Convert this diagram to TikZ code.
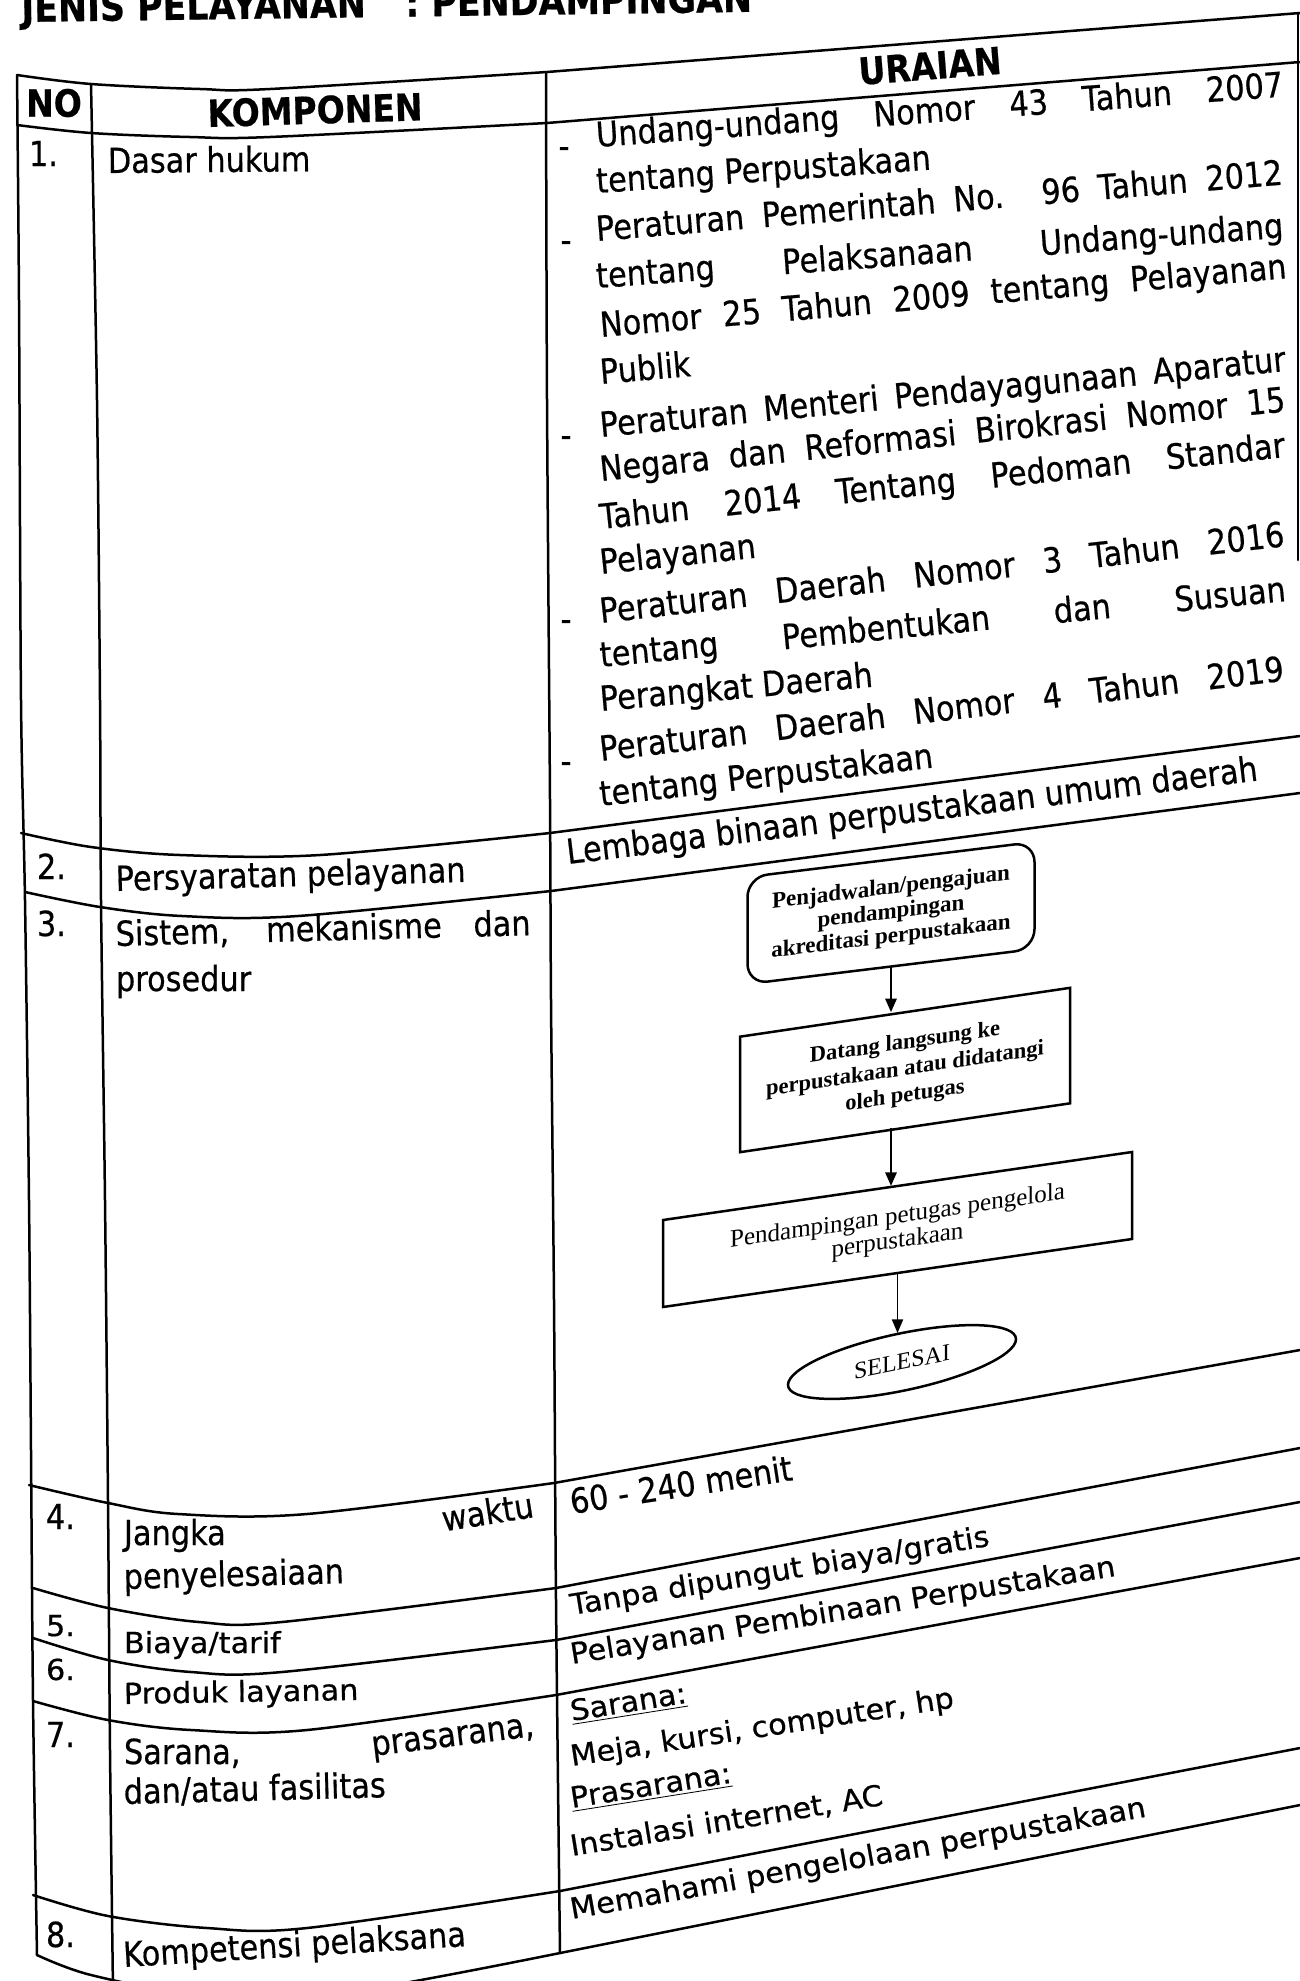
\documentclass[tikz,border=0pt]{standalone}
\usepackage{fontspec}
\setmainfont{DejaVu Sans}[FakeStretch=0.88,FakeBold=0.5]
\newfontfamily\flowfont{Liberation Serif}
\usetikzlibrary{arrows.meta,shapes.geometric}
% one justified line of the description column
\newcommand{\justline}[2][275.5pt]{\makebox[#1][s]{#2}}

\begin{document}
\begin{tikzpicture}[x=0.4pt,y=-0.4pt,
  rule/.style={line width=1pt,line join=round,line cap=round},
  body/.style={anchor=base west,inner sep=0pt,outer sep=0pt,font=\fontsize{13.8}{16}\selectfont},
  bodyend/.style={body,anchor=base east},
  squish/.style={yscale=0.84},
  head/.style={inner sep=0pt,font=\bfseries\fontsize{15}{18}\selectfont},
  bulletmark/.style={anchor=base,inner sep=0pt,font=\fontsize{13.8}{16}\selectfont},
  flowbox/.style={draw,line width=1pt,inner sep=0pt,outer sep=0pt,align=center},
  arr/.style={line width=1pt,-{Triangle[length=5.5pt,width=4.5pt]}},
]
\useasboundingbox (0,0) rectangle (1300,1981);
\fill[white] (0,0) rectangle (1300,1981);
\clip (0,0) rectangle (1300,1981);

% ---------- title ----------
\node[anchor=base west,inner sep=0pt,rotate=0.8,font=\bfseries\fontsize{15.8}{18}\selectfont]
  (title) at (21,22) {JENIS PELAYANAN\hspace{1em}: PENDAMPINGAN};

% ---------- horizontal rules (left part bends, right part slants) ----------
\draw[rule] plot[smooth,tension=0.55] coordinates {(17,75) (91,84) (200,89) (270,89) (547,72)} -- (1300,13);
\draw[rule] plot[smooth,tension=0.55] coordinates {(17,125) (91,133) (190,137) (270,137) (547,123)} -- (1300,62);
\draw[rule] plot[smooth,tension=0.55] coordinates {(21,833) (91,847) (180,855) (320,855) (550,833)} -- (1300,736);
\draw[rule] plot[smooth,tension=0.55] coordinates {(25,892) (100,907) (182,916) (298,916) (551,891)} -- (1300,793);
\draw[rule] plot[smooth,tension=0.55] coordinates {(29,1485) (108,1503) (178,1514) (307,1514) (554,1483)} -- (1300,1350);
\draw[rule] plot[smooth,tension=0.55] coordinates {(33,1588) (108,1608) (199,1622) (282,1622) (556,1588)} -- (1300,1448);
\draw[rule] plot[smooth,tension=0.55] coordinates {(33,1638) (108,1660) (191,1672) (282,1672) (556,1640)} -- (1300,1502);
\draw[rule] plot[smooth,tension=0.55] coordinates {(33,1701) (108,1720) (191,1730) (307,1730) (556,1695)} -- (1300,1558);
\draw[rule] plot[smooth,tension=0.55] coordinates {(33,1895) (108,1916) (207,1928) (307,1928) (560,1891)} -- (1300,1748);
\draw[rule] plot[smooth,tension=0.55] coordinates {(37,1955) (91,1975) (200,1995) (330,1995) (560,1953)} -- (1300,1805);

% ---------- vertical rules ----------
\draw[rule] plot[smooth] coordinates {(17,75) (19,300) (21,700) (25,900) (29,1200) (31,1450) (33,1700) (37,1955)};
\draw[rule] plot[smooth] coordinates {(91,84) (97,400) (100,700) (101,900) (105,1200) (108,1500) (110,1750) (113,1990)};
\draw[rule] plot[smooth] coordinates {(546,72) (547,400) (550,800) (551,1000) (554,1300) (556,1600) (560,1953)};
\draw[rule] (1298,13) -- (1298,560);

% ---------- header ----------
\node[head] (hno) at (54,103) {NO};
\node[head,rotate=1.8] (hkomp) at (315,110) {KOMPONEN};
\node[head,rotate=4.5] (huraian) at (930,66) {URAIAN};

% ---------- number column ----------
\node[body] (n1) at (29,166) {1.};
\node[body] (n2) at (37,879) {2.};
\node[body] (n3) at (37,936) {3.};
\node[body] (n4) at (46,1529) {4.};
\node[body,squish] (n5) at (46,1636) {5.};
\node[body,squish] (n6) at (46,1680) {6.};
\node[body] (n7) at (46,1747) {7.};
\node[body] (n8) at (46,1947) {8.};

% ---------- component column ----------
\node[body,rotate=0.5] (c1) at (108,173) {Dasar hukum};
\node[body,rotate=1.5] (c2) at (116,891) {Persyaratan pelayanan};
\node[body,rotate=1.5] (c3a) at (116,946) {\justline[166pt]{Sistem, mekanisme dan}};
\node[body] (c3b) at (116,991) {prosedur};
\node[body] (c4a) at (124,1545) {Jangka};
\node[bodyend,rotate=9] (c4b) at (535,1517) {waktu};
\node[body,rotate=1.5] (c4c) at (124,1589) {penyelesaiaan};
\node[body,squish] (c5) at (124,1653) {Biaya/tarif};
\node[body,rotate=1,squish] (c6) at (124,1704) {Produk layanan};
\node[body] (c7a) at (124,1764) {Sarana,};
\node[bodyend,rotate=7] (c7b) at (535,1736) {prasarana,};
\node[body,rotate=1.5] (c7c) at (124,1804) {dan/atau fasilitas};
\node[body,rotate=3.5] (c8) at (124,1967) {Kompetensi pelaksana};

% ---------- description column ----------
\node[bulletmark] (bl1) at (564,158) {-};
\node[bulletmark] (bl2) at (566,252) {-};
\node[bulletmark] (bl3) at (566,447) {-};
\node[bulletmark] (bl4) at (566,631) {-};
\node[bulletmark] (bl5) at (566,773) {-};

\node[body,rotate=4.2] (r1) at (597,147) {\justline{Undang-undang Nomor 43 Tahun 2007}};
\node[body,rotate=4.0] (r2) at (597,193) {tentang Perpustakaan};
\node[body,rotate=4.7] (r3) at (597,241) {\justline{Peraturan Pemerintah No. 96 Tahun 2012}};
\node[body,rotate=4.2] (r4) at (597,288) {\justline{tentang Pelaksanaan Undang-undang}};
\node[body,rotate=4.9] (r5) at (601,337) {\justline{Nomor 25 Tahun 2009 tentang Pelayanan}};
\node[body,rotate=5.0] (r6) at (601,384) {Publik};
\node[body,rotate=5.5] (r7) at (601,437) {\justline{Peraturan Menteri Pendayagunaan Aparatur}};
\node[body,rotate=5.8] (r8) at (601,481) {\justline{Negara dan Reformasi Birokrasi Nomor 15}};
\node[body,rotate=6.0] (r9) at (601,529) {\justline{Tahun 2014 Tentang Pedoman Standar}};
\node[body,rotate=6.0] (r10) at (601,574) {Pelayanan};
\node[body,rotate=6.4] (r11) at (601,623) {\justline{Peraturan Daerah Nomor 3 Tahun 2016}};
\node[body,rotate=5.5] (r12) at (601,667) {\justline{tentang Pembentukan dan Susuan}};
\node[body,rotate=5.1] (r13) at (601,711) {Perangkat Daerah};
\node[body,rotate=6.7] (r14) at (601,761) {\justline{Peraturan Daerah Nomor 4 Tahun 2019}};
\node[body,rotate=6.6] (r15) at (601,806) {tentang Perpustakaan};
\node[body,rotate=6.9] (r16) at (568,864) {Lembaga binaan perpustakaan umum daerah};
\node[body,rotate=8.7] (r17) at (572,1514) {60 - 240 menit};
\node[body,rotate=9.4,squish] (r18) at (572,1615) {Tanpa dipungut biaya/gratis};
\node[body,rotate=9.2,squish] (r19) at (572,1664) {Pelayanan Pembinaan Perpustakaan};
\node[body,rotate=9.0,squish] (r20) at (572,1721) {\underline{Sarana:}};
\node[body,rotate=8.7,squish] (r21) at (572,1766) {Meja, kursi, computer, hp};
\node[body,rotate=9.0,squish] (r22) at (572,1808) {\underline{Prasarana:}};
\node[body,rotate=9.3,squish] (r23) at (572,1856) {Instalasi internet, AC};
\node[body,rotate=10.1,squish] (r24) at (572,1919) {Memahami pengelolaan perpustakaan};

% ---------- procedure flow ----------
\node[flowbox,rounded corners=8pt,yslant=0.122,minimum width=114.8pt,minimum height=42.8pt,
      font=\flowfont\bfseries\fontsize{9.2}{9.8}\selectfont]
  (b1) at (891,913) {Penjadwalan/pengajuan\\pendampingan\\akreditasi perpustakaan};
\node[flowbox,yslant=0.148,minimum width=132pt,minimum height=46.2pt,
      font=\flowfont\bfseries\fontsize{9}{10.6}\selectfont]
  (b2) at (905,1070) {Datang langsung ke\\perpustakaan atau didatangi\\oleh petugas};
\node[flowbox,yslant=0.145,minimum width=187.6pt,minimum height=34.8pt,
      font=\flowfont\fontsize{10}{9.8}\selectfont]
  (b3) at (897.5,1229.5) {Pendampingan petugas pengelola\\perpustakaan};
\node[flowbox,ellipse,yslant=0.2,minimum width=91.2pt,minimum height=23.2pt,
      font=\flowfont\fontsize{9.6}{11}\selectfont]
  (el) at (902,1362) {SELESAI};

\draw[arr] (b1.south) -- (b1.south |- b2.north);
\draw[arr] (b2.south -| b1.south) -- (b1.south |- b3.north);
\draw[arr,line width=0.6pt] (b3.south) -- (b3.south |- el.north);

\end{tikzpicture}
\end{document}
